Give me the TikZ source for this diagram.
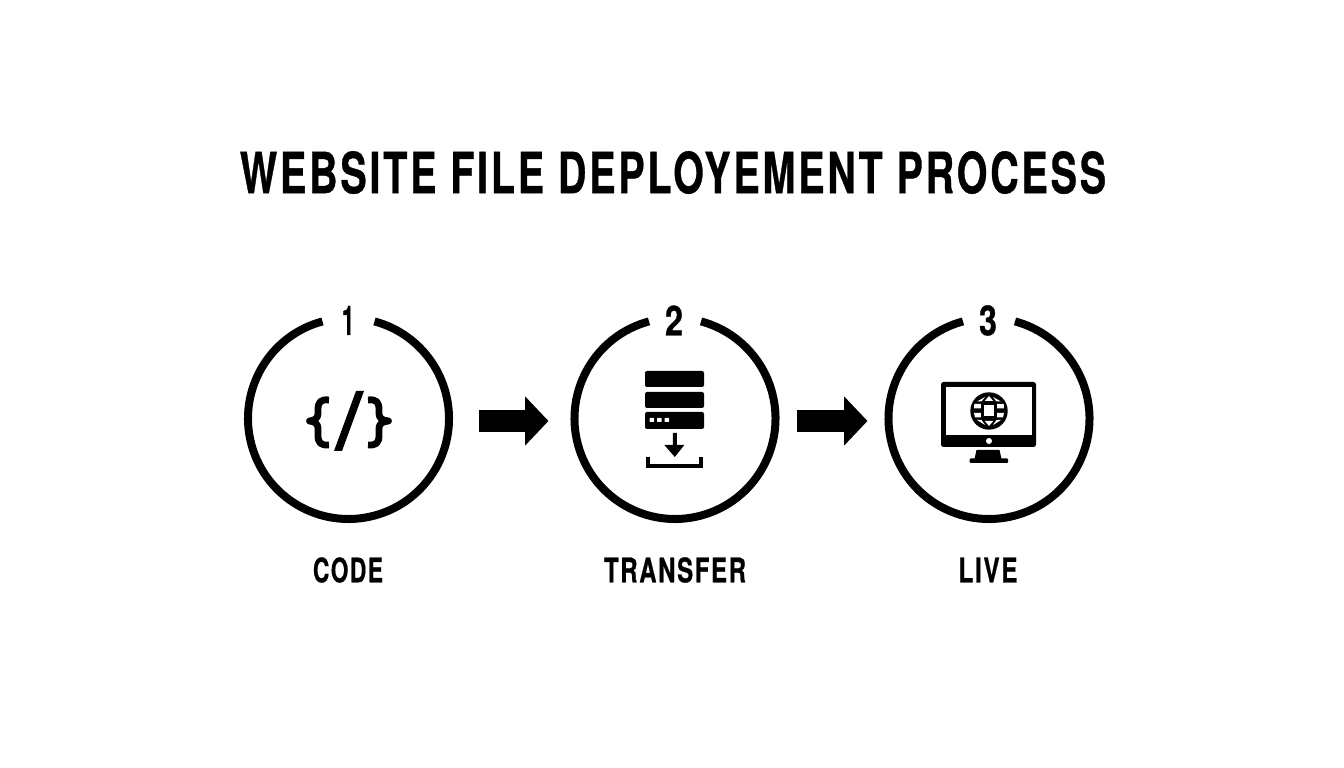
\documentclass[tikz,border=0pt]{standalone}
\usepackage{fontspec}
\usepackage{graphicx}
\usetikzlibrary{arrows.meta,calc}
\newfontfamily\condfont[LetterSpace=7,FakeBold=0.8]{TeX Gyre Heros}
\newcommand{\fitted}[3]{\resizebox{#1}{#2}{\condfont\bfseries #3}}
\tikzset{
  txt/.style={inner sep=0pt,outer sep=0pt,text=black},
  ring/.style={draw=none,circle,inner sep=0pt,outer sep=0pt,minimum size=209pt},
  ringline/.style={line width=8pt,draw=black,line cap=butt},
  flow/.style={line width=22.5pt,draw=black,-{Triangle[length=23.5pt,width=48pt,sharp]}},
  brace/.style={line width=6.8pt,draw=black,line cap=butt,line join=round},
  slash/.style={fill=black,draw=none},
  bar/.style={fill=black,draw=none,rounded corners=2pt},
  whitecell/.style={fill=white,draw=none},
}
\begin{document}
\begin{tikzpicture}[x=1pt,y=1pt]
\useasboundingbox[fill=white] (0,0) rectangle (1344,768);
% title
\node[txt] (title) at (673,595.5) {\fitted{866pt}{42pt}{WEBSITE FILE DEPLOYEMENT PROCESS}};
% rings
\node[ring] (c1) at (348.5,349.5) {};
\node[ring] (c2) at (675,349.5) {};
\node[ring] (c3) at (989,349.5) {};
\foreach \c in {c1,c2,c3}
  \draw[ringline] (\c) ++(105:100.5pt) arc[start angle=105,end angle=435,radius=100.5pt];
% numbers
\node[txt] (n1) at (348,447.5) {\fitted{12pt}{29pt}{1}};
\node[txt] (n2) at (674,447.5) {\fitted{18pt}{30pt}{2}};
\node[txt] (n3) at (988,447.5) {\fitted{18pt}{30pt}{3}};
% labels
\node[txt] (l1) at (348,198) {\fitted{70pt}{25pt}{CODE}};
\node[txt] (l2) at (675,198) {\fitted{142pt}{25pt}{TRANSFER}};
\node[txt] (l3) at (988,198) {\fitted{59pt}{25pt}{LIVE}};
% connectors
\coordinate (a1s) at ($(c1.east)+(26,-2.5)$);
\coordinate (a1e) at ($(c2.west)+(-22,-2.5)$);
\coordinate (a2s) at ($(c2.east)+(17.5,-2.5)$);
\coordinate (a2e) at ($(c3.west)+(-17,-2.5)$);
\draw[flow] (a1s) -- (a1e);
\draw[flow] (a2s) -- (a2e);
% icon 1: code
\draw[brace] (329,368) .. controls (320.5,369) and (318,366) .. (318,358) -- (318,354.5)
  .. controls (318,350) and (315,347.5) .. (309.5,347) .. controls (315,346.5) and (318,344) .. (318,339.5)
  -- (318,333) .. controls (318,325) and (320.5,322.5) .. (329,323);
\draw[brace] (368,368) .. controls (376.5,369) and (379,366) .. (379,358) -- (379,354.5)
  .. controls (379,350) and (382,347.5) .. (388.5,347) .. controls (382,346.5) and (379,344) .. (379,339.5)
  -- (379,333) .. controls (379,325) and (376.5,322.5) .. (368,323);
\fill[slash] (334,317) -- (342,317) -- (364,377) -- (356,377) -- cycle;
% icon 2: server and download
\fill[bar] (645,381) rectangle (704,397);
\fill[bar] (645,360) rectangle (704,376);
\fill[bar] (645,339) rectangle (704,356);
\foreach \x in {649.5,657,664.5}
  \fill[whitecell,rounded corners=0.5pt] (\x,346) rectangle ++(4.5,4);
\fill[black] (672.8,335) -- (676.8,335) -- (676.8,323) -- (684.3,323) -- (674.8,311) -- (664.3,323) -- (672.8,323) -- cycle;
\draw[line width=3.5pt,draw=black] (647.8,311) -- (647.8,301.8) -- (701.2,301.8) -- (701.2,311);
% icon 3: monitor with globe
\fill[black,rounded corners=2.5pt] (941,321) rectangle (1036,386);
\fill[white] (945.5,333) rectangle (1032,381);
\fill[white] (989,327) circle (3pt);
\fill[black] (976.5,318) -- (999.5,318) -- (1001.5,309) -- (974.5,309) -- cycle;
\fill[black,rounded corners=1pt] (969.5,305) rectangle (1008,309.5);
\fill[black] (989,357) circle (18.7pt);
\fill[whitecell] (983.5,352) rectangle (994,363);
\fill[whitecell] (989,372) -- (984.8,367) -- (993.2,367) -- cycle;
\fill[whitecell] (989,342) -- (984.8,347) -- (993.2,347) -- cycle;
\fill[whitecell] (974.3,364) -- (980.8,364) -- (980.8,359.5) -- (974,359.5) -- cycle;
\fill[whitecell] (974,355) -- (980.8,355) -- (980.8,350.5) -- (975,350.5) -- cycle;
\fill[whitecell] (1003.7,364) -- (997.2,364) -- (997.2,359.5) -- (1004,359.5) -- cycle;
\fill[whitecell] (1004,355) -- (997.2,355) -- (997.2,350.5) -- (1003,350.5) -- cycle;
\fill[whitecell] (985,371) -- (981.5,366.5) -- (977,366.5) -- cycle;
\fill[whitecell] (993,371) -- (996.5,366.5) -- (1001,366.5) -- cycle;
\fill[whitecell] (985,343) -- (981.5,348) -- (977,348) -- cycle;
\fill[whitecell] (993,343) -- (996.5,348) -- (1001,348) -- cycle;
\end{tikzpicture}
\end{document}
